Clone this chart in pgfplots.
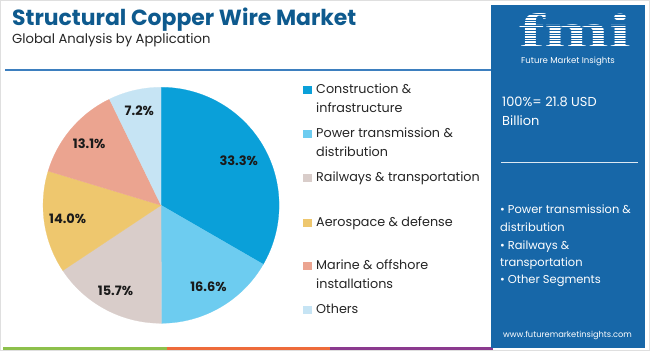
\documentclass[border=0pt]{standalone}
\usepackage{pgfplots}
\pgfplotsset{compat=1.18}
\usepackage{fontspec}
\setmainfont{Poppins}
\newfontfamily\serifb{Liberation Serif}
\definecolor{titleblue}{HTML}{0E5A8E}
\definecolor{panel}{HTML}{1767A8}
\definecolor{cA}{HTML}{0AA0D9}
\definecolor{cB}{HTML}{6DCCF0}
\definecolor{cC}{HTML}{D9CDCA}
\definecolor{cD}{HTML}{EEC76E}
\definecolor{cE}{HTML}{EBA490}
\definecolor{cF}{HTML}{C6E4F4}
\definecolor{lineblue}{HTML}{3D7FBF}
\definecolor{sgreen}{HTML}{8DC04B}
\definecolor{sorange}{HTML}{EE6B3B}
\definecolor{spurple}{HTML}{8B3A8E}
\definecolor{labtxt}{HTML}{1A1A1A}
% shares (%) by application
\def\vA{33.3}\def\vB{16.6}\def\vC{15.7}\def\vD{14.0}\def\vE{13.1}\def\vF{7.2}
\begin{document}
\begin{tikzpicture}[x=1bp,y=1bp]
\useasboundingbox (0,0) rectangle (650,351);
\fill[white] (0,0) rectangle (650,351);
\draw[gray!25, line width=1bp] (0.5,0.5) rectangle (649.5,350.5);
% title
\node[anchor=base west, inner sep=0, font=\fontsize{22}{24}\selectfont\bfseries, text=titleblue] at (12,326) {Structural Copper Wire Market};
\node[anchor=base west, inner sep=0, font=\fontsize{13.2}{15}\selectfont, text=black!85] at (12,308) {Global Analysis by Application};
\draw[lineblue, line width=1.2bp] (5,281) -- (493,281);
% bottom stripes
\fill[sgreen] (3,1.5) rectangle (167,4.5);
\fill[sorange] (167,1.5) rectangle (330,4.5);
\fill[spurple] (330,1.5) rectangle (493,4.5);
% angles
\pgfmathsetmacro\tot{\vA+\vB+\vC+\vD+\vE+\vF}
\pgfmathsetmacro\aA{90}
\pgfmathsetmacro\aB{\aA-360*\vA/\tot}
\pgfmathsetmacro\aC{\aB-360*\vB/\tot}
\pgfmathsetmacro\aD{\aC-360*\vC/\tot}
\pgfmathsetmacro\aE{\aD-360*\vD/\tot}
\pgfmathsetmacro\aF{\aE-360*\vE/\tot}
\pgfmathsetmacro\aG{-270}
\pgfmathsetmacro\xA{0.76*cos((\aA+\aB)/2)}\pgfmathsetmacro\yA{0.76*sin((\aA+\aB)/2)}
\pgfmathsetmacro\xB{0.80*cos((\aB+\aC)/2)}\pgfmathsetmacro\yB{0.80*sin((\aB+\aC)/2)}
\pgfmathsetmacro\xC{0.82*cos((\aC+\aD)/2)}\pgfmathsetmacro\yC{0.82*sin((\aC+\aD)/2)}
\pgfmathsetmacro\xD{0.80*cos((\aD+\aE)/2)}\pgfmathsetmacro\yD{0.80*sin((\aD+\aE)/2)}
\pgfmathsetmacro\xE{0.80*cos((\aE+\aF)/2)}\pgfmathsetmacro\yE{0.80*sin((\aE+\aF)/2)}
\pgfmathsetmacro\xF{0.82*cos((\aF+\aG)/2)}\pgfmathsetmacro\yF{0.82*sin((\aF+\aG)/2)}
\begin{axis}[hide axis, x=118bp, y=118bp, xmin=-1, xmax=1, ymin=-1, ymax=1,
  anchor=origin, at={(136.5,123.5)}, clip=false, samples=120]
\addplot[fill=cA, draw=cA, line width=0.2pt, domain=\aB:\aA] ({cos(x)},{sin(x)}) -- (axis cs:0,0) -- cycle;
\addplot[fill=cB, draw=cB, line width=0.2pt, domain=\aC:\aB] ({cos(x)},{sin(x)}) -- (axis cs:0,0) -- cycle;
\addplot[fill=cC, draw=cC, line width=0.2pt, domain=\aD:\aC] ({cos(x)},{sin(x)}) -- (axis cs:0,0) -- cycle;
\addplot[fill=cD, draw=cD, line width=0.2pt, domain=\aE:\aD] ({cos(x)},{sin(x)}) -- (axis cs:0,0) -- cycle;
\addplot[fill=cE, draw=cE, line width=0.2pt, domain=\aF:\aE] ({cos(x)},{sin(x)}) -- (axis cs:0,0) -- cycle;
\addplot[fill=cF, draw=cF, line width=0.2pt, domain=\aG:\aF] ({cos(x)},{sin(x)}) -- (axis cs:0,0) -- cycle;
\node[font=\fontsize{13}{14}\selectfont\bfseries, text=labtxt] at (axis cs:\xA,\yA) {33.3\%};
\node[font=\fontsize{13}{14}\selectfont\bfseries, text=labtxt] at (axis cs:\xB,\yB) {16.6\%};
\node[font=\fontsize{13}{14}\selectfont\bfseries, text=labtxt] at (axis cs:\xC,\yC) {15.7\%};
\node[font=\fontsize{13}{14}\selectfont\bfseries, text=labtxt] at (axis cs:\xD,\yD) {14.0\%};
\node[font=\fontsize{13}{14}\selectfont\bfseries, text=labtxt] at (axis cs:\xE,\yE) {13.1\%};
\node[font=\fontsize{13}{14}\selectfont\bfseries, text=labtxt] at (axis cs:\xF,\yF) {7.2\%};
\end{axis}
% legend
\tikzset{lg/.style={anchor=base west, inner sep=0, font=\fontsize{12.8}{15}\selectfont, text=black!85}}
\fill[cA] (303,257) rectangle (312,265);
\node[lg] at (316,258) {Construction \&};
\node[lg] at (316,239) {infrastructure};
\fill[cB] (303,213) rectangle (312,221);
\node[lg] at (316,214) {Power transmission \&};
\node[lg] at (316,195) {distribution};
\fill[cC] (303,169) rectangle (312,177);
\node[lg] at (316,170) {Railways \& transportation};
\fill[cD] (303,124) rectangle (312,132);
\node[lg] at (316,125) {Aerospace \& defense};
\fill[cE] (303,81) rectangle (312,89);
\node[lg] at (316,82) {Marine \& offshore};
\node[lg] at (316,63) {installations};
\fill[cF] (303,37) rectangle (312,45);
\node[lg] at (316,38) {Others};
% right panel
\fill[panel] (491,3) rectangle (645,346);
\node[inner sep=0, text=white] at (575,321) {\resizebox{112bp}{34bp}{\serifb\bfseries fmi}};
\foreach \yy in {305,307.6,...,339} {\draw[panel, line width=0.9bp] (510,\yy) -- (640,\yy);}
\node[anchor=base, inner sep=0, font=\fontsize{8.6}{10}\selectfont, text=white] at (568,288) {Future Market Insights};
\tikzset{pn/.style={anchor=base west, inner sep=0, font=\fontsize{13}{15}\selectfont, text=white}}
\node[pn] at (502,245) {100\%= 21.8 USD};
\node[pn] at (502,226) {Billion};
\draw[white!85!panel, line width=0.8bp] (501,189) -- (638,189);
\tikzset{pb/.style={anchor=base west, inner sep=0, font=\fontsize{11.5}{14}\selectfont, text=white}}
\node[pb] at (500,138) {• Power transmission \&};
\node[pb] at (500,120) {distribution};
\node[pb] at (500,102) {• Railways \&};
\node[pb] at (500,85) {transportation};
\node[pb] at (500,68) {• Other Segments};
\node[anchor=base, inner sep=0, font=\fontsize{8.3}{10}\selectfont, text=white] at (567.5,14) {www.futuremarketinsights.com};
\end{tikzpicture}
\end{document}
